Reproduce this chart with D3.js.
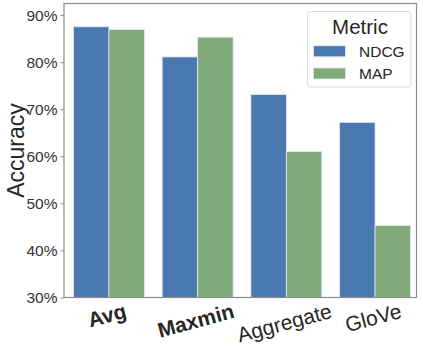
<!DOCTYPE html>
<html>
<head>
<meta charset="utf-8">
<script src="https://cdn.jsdelivr.net/npm/d3@7"></script>
<style>
  html, body { margin: 0; padding: 0; background: #fff; }
  svg { display: block; }
  text { font-family: "Liberation Sans", Arial, sans-serif; }
</style>
</head>
<body>
<svg id="chart" width="423" height="356"></svg>
<script>
const categories = ["Avg", "Maxmin", "Aggregate", "GloVe"];
const boldCategories = ["Avg", "Maxmin"];
const metrics = ["NDCG", "MAP"];
const ndcgValues = [87.5, 81.1, 73.1, 67.2];
const mapValues = [86.9, 85.3, 61.0, 45.3];
const yTicks = [30, 40, 50, 60, 70, 80, 90];
const colors = ["#4a78b0", "#80aa7a"];

const svg = d3.select("#chart");
const frame = { left: 64, right: 416.5, top: 3.5, bottom: 297.5 };

const x = d3.scaleBand().domain(categories).range([64.6, 419.4]).paddingInner(0.2).paddingOuter(0.1);
const xs = d3.scaleBand().domain(metrics).range([0, x.bandwidth()]);
const y = d3.scaleLinear().domain([30, 92.45]).range([frame.bottom, frame.top]);

const seriesByMetric = { NDCG: ndcgValues, MAP: mapValues };
const data = [];
categories.forEach((c, i) => metrics.forEach((m) => data.push({ c, m, v: seriesByMetric[m][i] })));

svg.append("g").selectAll("rect").data(data).join("rect")
  .attr("x", d => x(d.c) + xs(d.m))
  .attr("y", d => y(d.v))
  .attr("width", xs.bandwidth())
  .attr("height", d => y(30) - y(d.v))
  .attr("fill", d => colors[metrics.indexOf(d.m)])
  .attr("stroke", "#dfe8ee")
  .attr("stroke-width", 0.8);

// frame
svg.append("rect")
  .attr("x", frame.left).attr("y", frame.top)
  .attr("width", frame.right - frame.left).attr("height", frame.bottom - frame.top)
  .attr("fill", "none").attr("stroke", "#8c8c8c").attr("stroke-width", 1.2);

// y axis
const yAxis = d3.axisLeft(y).tickValues(yTicks).tickFormat(d => d + "%").tickSize(3.5).tickPadding(3);
const gy = svg.append("g").attr("transform", `translate(${frame.left},0)`).call(yAxis);
gy.select(".domain").remove();
gy.selectAll(".tick line").attr("stroke", "#8c8c8c").attr("stroke-width", 1);
gy.selectAll(".tick text").attr("fill", "#333").style("font-size", "15.5px")
  .style("font-family", '"Liberation Sans", Arial, sans-serif');

// y label
svg.append("text")
  .attr("transform", `translate(24,${(frame.top + frame.bottom) / 2}) rotate(-90)`)
  .attr("text-anchor", "middle")
  .attr("fill", "#262626")
  .style("font-size", "23px")
  .text("Accuracy");

// x labels, rotated 15deg
const angle = -15;
const rad = Math.abs(angle) * Math.PI / 180;
const xg = svg.append("g");
categories.forEach(c => {
  const t = xg.append("text")
    .attr("text-anchor", "middle")
    .attr("fill", "#262626")
    .style("font-size", "21px")
    .style("font-weight", boldCategories.includes(c) ? "bold" : "normal")
    .text(c);
  const w = t.node().getComputedTextLength();
  const cx = x(c) + x.bandwidth() / 2;
  const cy = frame.bottom + 20 + (w / 2) * Math.sin(rad);
  t.attr("transform", `translate(${cx},${cy}) rotate(${angle})`);
});

// legend
const lg = svg.append("g");
lg.append("rect")
  .attr("x", 307.5).attr("y", 11.5).attr("width", 103.5).attr("height", 75.5)
  .attr("rx", 3).attr("fill", "#fff").attr("stroke", "#dcdcdc").attr("stroke-width", 1);
lg.append("text")
  .attr("x", 360).attr("y", 33.5).attr("text-anchor", "middle")
  .attr("fill", "#262626").style("font-size", "20.5px").text("Metric");
metrics.forEach((m, i) => {
  const yy = 45.8 + i * 22.2;
  lg.append("rect").attr("x", 313.5).attr("y", yy).attr("width", 32).attr("height", 11)
    .attr("fill", colors[i]).attr("stroke", "#dfe8ee").attr("stroke-width", 0.8);
  lg.append("text").attr("x", 359).attr("y", yy + 11).attr("fill", "#262626")
    .style("font-size", "15.5px").text(m);
});
</script>
</body>
</html>
